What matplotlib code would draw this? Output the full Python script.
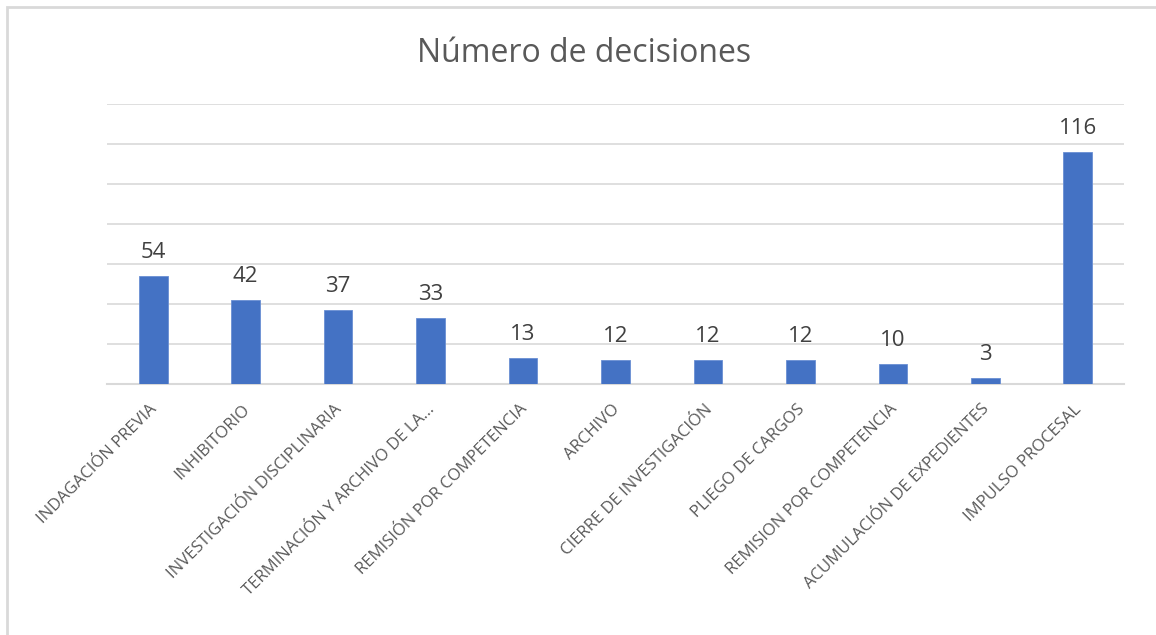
import matplotlib.pyplot as plt
from matplotlib.patches import Rectangle
from matplotlib.transforms import ScaledTranslation

categories = [
    'INDAGACIÓN PREVIA',
    'INHIBITORIO',
    'INVESTIGACIÓN DISCIPLINARIA',
    'TERMINACIÓN Y ARCHIVO DE LA...',
    'REMISIÓN POR COMPETENCIA',
    'ARCHIVO',
    'CIERRE DE INVESTIGACIÓN',
    'PLIEGO DE CARGOS',
    'REMISION POR COMPETENCIA',
    'ACUMULACIÓN DE EXPEDIENTES',
    'IMPULSO PROCESAL',
]
values = [54, 42, 37, 33, 13, 12, 12, 12, 10, 3, 116]
title = 'Número de decisiones'

plt.rcParams['font.family'] = ['Open Sans', 'DejaVu Sans']
text_color = '#595959'
grid_color = '#D9D9D9'
bar_color = '#4472C4'

fig = plt.figure(figsize=(11.56, 6.35), dpi=100)
ax = fig.add_axes([107 / 1156, 1 - 384 / 635, (1124 - 107) / 1156, (384 - 104) / 635])

x = range(len(categories))
bars = ax.bar(x, values, width=0.31, color=bar_color, edgecolor='#6A8FD3', linewidth=0.6, zorder=3)

ax.set_xlim(-0.5, len(categories) - 0.5)
ax.set_ylim(0, 140)
ax.set_yticks(range(0, 141, 20))
ax.yaxis.grid(True, color=grid_color, linewidth=1.2, zorder=0)
ax.tick_params(axis='y', left=False, labelleft=False)
ax.tick_params(axis='x', bottom=False, pad=9)

for side in ['top', 'right', 'left']:
    ax.spines[side].set_visible(False)
ax.spines['bottom'].set_color(grid_color)
ax.spines['bottom'].set_linewidth(1.5)

ax.set_xticks(list(x))
ax.set_xticklabels(categories, rotation=45, ha='right', rotation_mode='anchor',
                   fontsize=12, color=text_color)
shift = ScaledTranslation(-4 / 100, 0, fig.dpi_scale_trans)
for lbl in ax.get_xticklabels():
    lbl.set_transform(lbl.get_transform() + shift)

for b, v in zip(bars, values):
    ax.annotate(str(v), xy=(b.get_x() + b.get_width() / 2, v), xytext=(0, 13),
                textcoords='offset points', ha='center', va='baseline',
                fontsize=16, color='#404040')

fig.text(584 / 1156, 1 - 54 / 635, title, ha='center', va='center', fontsize=23, color=text_color)

# chart area border like the spreadsheet export
fig.patches.append(Rectangle((7 / 1156, -0.1), 1.2, 1 - 7 / 635 + 0.1, transform=fig.transFigure,
                             fill=False, edgecolor=grid_color, linewidth=2))

fig.savefig('out.png', dpi=100)
